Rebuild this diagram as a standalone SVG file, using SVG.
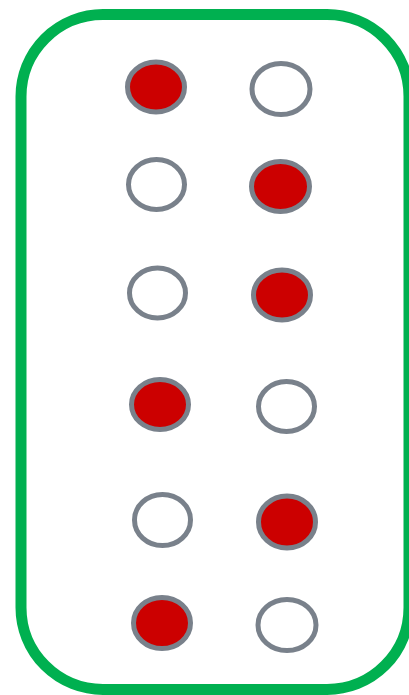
<svg xmlns="http://www.w3.org/2000/svg" width="409" height="695" viewBox="0 0 409 695">
<style>
.frame{fill:#ffffff;stroke:#00b050;stroke-width:11}
.dot{stroke:#79818b;stroke-width:5}
.on{fill:#cc0000}
.off{fill:#ffffff}
</style>
<rect width="409" height="695" fill="#ffffff"/>
<g id="frame"><rect class="frame" x="21" y="14.5" width="388" height="675" rx="82" ry="82"/></g>
<g id="r1l"><ellipse class="dot on" cx="156" cy="87" rx="28.5" ry="25"/></g>
<g id="r1r"><ellipse class="dot off" cx="281" cy="89" rx="29" ry="25.5"/></g>
<g id="r2l"><ellipse class="dot off" cx="156.5" cy="184.5" rx="28" ry="25"/></g>
<g id="r2r"><ellipse class="dot on" cx="280.5" cy="186.5" rx="29" ry="25"/></g>
<g id="r3l"><ellipse class="dot off" cx="157.5" cy="293" rx="28" ry="25"/></g>
<g id="r3r"><ellipse class="dot on" cx="282" cy="295" rx="28.5" ry="25"/></g>
<g id="r4l"><ellipse class="dot on" cx="160" cy="404.5" rx="28.5" ry="25"/></g>
<g id="r4r"><ellipse class="dot off" cx="286.5" cy="406.5" rx="28" ry="25"/></g>
<g id="r5l"><ellipse class="dot off" cx="162.5" cy="520" rx="28" ry="25.5"/></g>
<g id="r5r"><ellipse class="dot on" cx="287" cy="522" rx="28.5" ry="26"/></g>
<g id="r6l"><ellipse class="dot on" cx="162" cy="623" rx="28.5" ry="25.5"/></g>
<g id="r6r"><ellipse class="dot off" cx="287" cy="625" rx="29" ry="25.5"/></g>
<g id="connectors"></g>
</svg>
